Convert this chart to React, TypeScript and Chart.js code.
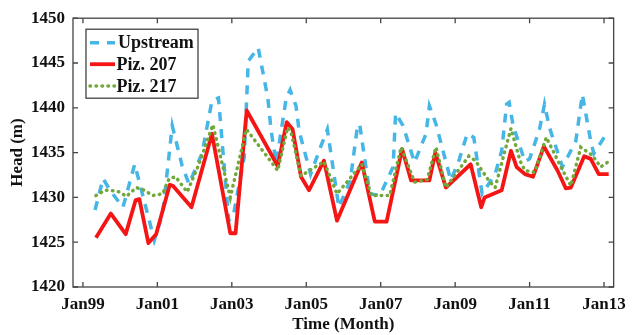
import React, { useEffect, useRef } from "react";
import { Chart, registerables } from "chart.js";
Chart.register(...registerables);

// months counted from Jan 1999
const upstreamMonths = [3.9, 6.5, 8.7, 12.9, 16.7, 21.4, 23.0, 25.7, 28.8, 32.0, 34.2, 38.4, 41.6, 43.7, 47.0, 48.5, 52.0, 53.3, 56.5, 59.6, 60.7, 62.3, 65.5, 66.8, 68.7, 69.7, 73.4, 76.6, 78.8, 82.5, 86.2, 88.3, 89.2, 92.5, 95.7, 100.0, 100.8, 103.2, 106.9, 110.6, 111.7, 113.8, 118.6, 121.2, 123.9, 126.0, 128.7, 132.9, 135.0, 136.6, 137.4, 138.7, 142.5, 144.0, 147.2, 148.8, 150.4, 154.6, 158.9, 161.0, 163.7, 164.7, 168.4, 169.0];
const upstreamHead = [1428.6, 1432.1, 1430.8, 1428.9, 1433.7, 1427.4, 1425.2, 1428.2, 1438.0, 1433.5, 1431.5, 1434.9, 1440.8, 1441.1, 1427.4, 1428.0, 1434.5, 1445.2, 1446.7, 1441.1, 1437.4, 1433.8, 1441.0, 1442.0, 1440.2, 1437.4, 1432.6, 1435.6, 1437.6, 1428.9, 1431.9, 1437.4, 1438.2, 1430.4, 1430.2, 1433.4, 1439.4, 1438.0, 1433.9, 1437.1, 1440.2, 1438.2, 1431.9, 1434.1, 1437.1, 1436.7, 1430.4, 1432.6, 1435.2, 1440.4, 1440.6, 1438.0, 1434.0, 1434.3, 1437.6, 1440.4, 1437.8, 1433.4, 1436.3, 1441.5, 1436.3, 1434.9, 1436.9, 1437.3];

const piz207Months = [4.2, 9.0, 13.8, 17.0, 18.2, 21.1, 23.6, 28.0, 29.0, 35.0, 41.6, 47.5, 49.2, 52.8, 62.8, 65.7, 67.6, 70.3, 72.9, 77.7, 81.9, 89.9, 94.1, 97.9, 102.9, 105.8, 111.7, 113.6, 117.0, 125.0, 128.4, 129.5, 135.0, 138.0, 139.8, 142.5, 145.1, 148.6, 153.0, 155.7, 157.3, 161.6, 163.7, 166.3, 169.5];
const piz207Head = [1425.5, 1428.2, 1425.9, 1429.7, 1429.8, 1424.9, 1425.9, 1431.4, 1431.3, 1428.9, 1437.1, 1426.0, 1426.0, 1439.7, 1433.5, 1438.4, 1437.6, 1432.3, 1430.8, 1434.1, 1427.4, 1433.9, 1427.3, 1427.3, 1435.4, 1431.9, 1431.9, 1435.0, 1431.1, 1433.7, 1428.9, 1430.0, 1430.8, 1435.2, 1433.4, 1432.6, 1432.3, 1435.7, 1433.0, 1431.0, 1431.1, 1434.6, 1434.3, 1432.6, 1432.6];

const piz217Months = [4.2, 7.1, 8.7, 11.9, 14.0, 17.2, 19.8, 22.5, 25.7, 27.8, 29.9, 33.6, 37.4, 41.9, 47.5, 52.7, 62.8, 66.0, 67.0, 70.3, 74.0, 77.7, 81.9, 89.9, 93.0, 98.9, 102.6, 106.9, 111.0, 113.8, 117.0, 124.4, 126.5, 130.8, 132.9, 138.0, 140.9, 142.5, 145.6, 149.4, 154.1, 157.3, 160.5, 164.2, 166.9, 169.5];
const piz217Head = [1430.2, 1430.8, 1430.8, 1430.6, 1430.1, 1431.1, 1430.8, 1430.2, 1430.4, 1432.1, 1432.3, 1430.6, 1433.7, 1438.1, 1430.0, 1437.6, 1433.0, 1437.8, 1437.4, 1432.4, 1433.2, 1434.0, 1430.4, 1433.7, 1430.2, 1430.2, 1435.6, 1431.7, 1432.0, 1435.6, 1431.1, 1434.6, 1434.1, 1431.9, 1431.1, 1437.7, 1434.1, 1433.0, 1432.8, 1436.7, 1433.4, 1431.3, 1435.6, 1434.7, 1433.4, 1434.0];

const xTickMonths = [0, 24, 48, 72, 96, 120, 144, 168];
const xTickLabels = ["Jan99", "Jan01", "Jan03", "Jan05", "Jan07", "Jan09", "Jan11", "Jan13"];
const yTicks = [1420, 1425, 1430, 1435, 1440, 1445, 1450];

const seriesLabels = ["Upstream", "Piz. 207", "Piz. 217"];

const FONT = '"Liberation Serif", "Times New Roman", serif';

const toPoints = (xs: number[], ys: number[]) => xs.map((x, i) => ({ x, y: ys[i] }));

const framePlugin = {
  id: "frameTicks",
  afterDatasetsDraw(chart: any) {
    const { ctx, chartArea: a, scales } = chart;
    ctx.save();
    ctx.strokeStyle = "#444";
    ctx.lineWidth = 1.3;
    ctx.strokeRect(a.left, a.top, a.right - a.left, a.bottom - a.top);
    const L = 5;
    ctx.beginPath();
    xTickMonths.forEach((v) => {
      const x = scales.x.getPixelForValue(v);
      ctx.moveTo(x, a.bottom);
      ctx.lineTo(x, a.bottom - L);
      ctx.moveTo(x, a.top);
      ctx.lineTo(x, a.top + L);
    });
    yTicks.forEach((v) => {
      const y = scales.y.getPixelForValue(v);
      ctx.moveTo(a.left, y);
      ctx.lineTo(a.left + L, y);
      ctx.moveTo(a.right, y);
      ctx.lineTo(a.right - L, y);
    });
    ctx.stroke();
    ctx.restore();
  },
};

const legendPlugin = {
  id: "boxLegend",
  afterDraw(chart: any) {
    const { ctx, chartArea: a } = chart;
    const left = a.left + 13;
    const top = a.top + 11;
    const w = 112;
    const h = 69;
    ctx.save();
    ctx.fillStyle = "#fff";
    ctx.fillRect(left, top, w, h);
    ctx.strokeStyle = "#333";
    ctx.lineWidth = 1.2;
    ctx.strokeRect(left, top, w, h);
    const rows = [13.5, 35, 56.7];
    chart.data.datasets.forEach((ds: any, i: number) => {
      const y = top + rows[i];
      ctx.beginPath();
      ctx.strokeStyle = ds.borderColor;
      ctx.lineWidth = ds.borderWidth;
      ctx.lineCap = ds.borderCapStyle || "butt";
      ctx.setLineDash(ds.borderDash || []);
      ctx.moveTo(left + 4, y);
      ctx.lineTo(left + 29, y);
      ctx.stroke();
      ctx.setLineDash([]);
      ctx.fillStyle = "#111";
      ctx.font = `bold 18px ${FONT}`;
      ctx.textBaseline = "middle";
      ctx.textAlign = "left";
      ctx.fillText(ds.label, left + (i === 0 ? 32 : 30.5), y + 1);
    });
    ctx.restore();
  },
};

export default function App() {
  const ref = useRef<HTMLCanvasElement | null>(null);
  useEffect(() => {
    if (!ref.current) return;
    const chart = new Chart(ref.current, {
      type: "line",
      data: {
        datasets: [
          {
            label: seriesLabels[0],
            data: toPoints(upstreamMonths, upstreamHead),
            borderColor: "#45b6e6",
            borderWidth: 3.5,
            borderDash: [9, 8],
            pointRadius: 0,
            tension: 0,
            fill: false,
            order: 3,
          },
          {
            label: seriesLabels[1],
            data: toPoints(piz207Months, piz207Head),
            borderColor: "#f51515",
            borderWidth: 3.8,
            borderJoinStyle: "round",
            pointRadius: 0,
            tension: 0,
            fill: false,
            order: 2,
          },
          {
            label: seriesLabels[2],
            data: toPoints(piz217Months, piz217Head),
            borderColor: "#72a83a",
            borderWidth: 3.5,
            borderDash: [0.5, 5.5],
            borderCapStyle: "round",
            pointRadius: 0,
            tension: 0,
            fill: false,
            order: 1,
          },
        ],
      },
      options: {
        animation: false,
        responsive: false,
        devicePixelRatio: 1,
        layout: { padding: { top: 17, right: 13, left: 0, bottom: 0 } },
        plugins: { legend: { display: false }, tooltip: { enabled: false } },
        scales: {
          x: {
            type: "linear",
            min: -3.2,
            max: 171.1,
            grid: { display: false, drawTicks: false },
            border: { display: false },
            afterBuildTicks: (s: any) => {
              s.ticks = xTickMonths.map((v) => ({ value: v }));
            },
            afterFit: (s: any) => {
              s.height = 48;
            },
            ticks: {
              autoSkip: false,
              maxRotation: 0,
              padding: 7,
              color: "#111",
              font: { family: FONT, size: 17, weight: "bold" },
              callback: (v: any) => {
                const i = xTickMonths.indexOf(Number(v));
                return i >= 0 ? xTickLabels[i] : "";
              },
            },
            title: {
              display: true,
              text: "Time (Month)",
              color: "#111",
              padding: { top: 0, bottom: 0 },
              font: { family: FONT, size: 17, weight: "bold" },
            },
          },
          y: {
            type: "linear",
            min: 1420,
            max: 1450,
            grid: { display: false, drawTicks: false },
            border: { display: false },
            afterBuildTicks: (s: any) => {
              s.ticks = yTicks.map((v) => ({ value: v }));
            },
            afterFit: (s: any) => {
              s.width = 73;
            },
            ticks: {
              padding: 8,
              color: "#111",
              font: { family: FONT, size: 17, weight: "bold" },
              callback: (v: any) => String(v),
            },
            title: {
              display: true,
              text: "Head (m)",
              color: "#111",
              padding: { top: 7, bottom: 0 },
              font: { family: FONT, size: 17, weight: "bold" },
            },
          },
        },
      },
      plugins: [framePlugin, legendPlugin],
    });
    return () => chart.destroy();
  }, []);
  return (
    <div style={{ position: "fixed", left: 0, top: 0, width: 633, height: 335, background: "#fff" }}>
      <canvas ref={ref} width={633} height={335} />
    </div>
  );
}
